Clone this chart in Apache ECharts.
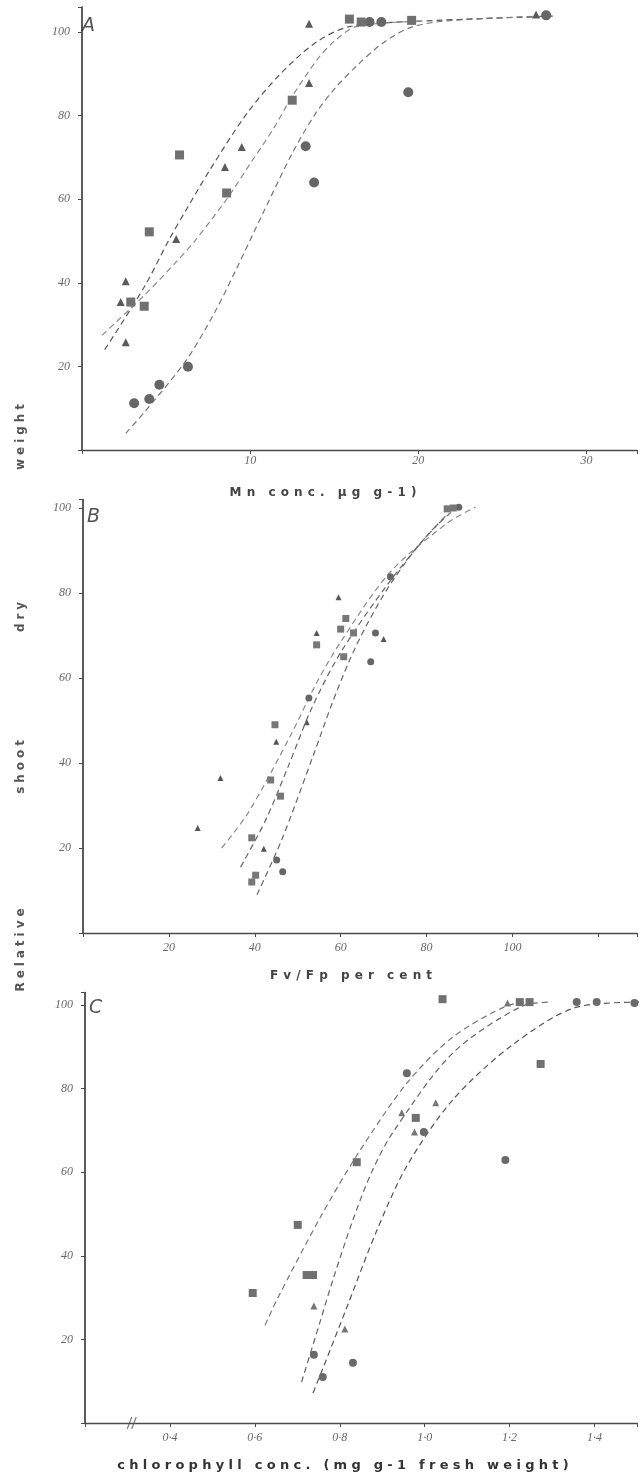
<!DOCTYPE html>
<html>
<head>
<meta charset="utf-8">
<script src="https://cdn.jsdelivr.net/npm/echarts@6/dist/echarts.min.js"></script>
<style>
html,body{margin:0;padding:0;background:#fff;}
#chart{width:640px;height:1480px;}
</style>
</head>
<body>
<div id="chart"></div>
<script>
// ---------- Panel A: Mn concentration ----------
const aCircle = [[3.1,11.2],[4.0,12.2],[4.6,15.6],[6.3,19.9],[13.3,72.7],[13.8,64],[19.4,85.6],[17.1,102.4],[17.8,102.4],[27.6,104]];
const aSquare = [[2.9,35.4],[3.7,34.4],[4.0,52.2],[5.8,70.6],[8.6,61.5],[12.5,83.7],[15.9,103.1],[16.6,102.4],[19.6,102.8]];
const aTriangle = [[2.3,35.4],[2.6,40.4],[2.6,25.8],[5.6,50.5],[8.5,67.7],[9.5,72.5],[13.5,87.8],[13.5,102],[27.0,104.2]];
const aCurve1 = [[1.35,24],[3.7,39],[5.2,50.5],[6.2,57.5],[7.6,67],[9.8,80.5],[11.8,90],[13.9,97.5],[15.9,101.3],[20,102.6],[28,103.8]];
const aCurve2 = [[1.2,27.5],[3.7,37],[5.6,45],[6.7,50],[8.6,60],[10,68.5],[11.4,77],[12.4,84],[14,93.5],[15,97.8],[16.3,101.3],[20,102.6]];
const aCurve3 = [[2.6,4],[3.7,9],[6.2,21.5],[7.9,33],[9.2,43.5],[10.8,57],[12.5,71],[13.9,80.6],[15.1,86.8],[16.3,91.8],[17.9,97.4],[19.6,101.2],[22,102.8],[27.5,103.8]];
const aXTickVals = [10,20,30];
const aXTickLabels = ['10','20','30'];

// ---------- Panel B: Fv/Fp ----------
const bTriangle = [[26.7,24.7],[32,36.5],[42.1,19.8],[45,45],[52.1,49.6],[54.4,70.6],[59.5,79],[70,69.2]];
const bSquare = [[39.3,22.4],[40.2,13.6],[39.3,12],[43.7,36],[44.7,49],[46,32.2],[54.4,67.8],[61.2,74],[60,71.5],[63,70.6],[60.7,65],[84.8,99.8],[86.2,100]];
const bCircle = [[45.1,17.2],[46.5,14.4],[52.6,55.3],[68.1,70.6],[67,63.8],[71.6,83.8],[87.5,100.2]];
const bCurve1 = [[32.3,20],[38.6,28.5],[48.6,47],[54.2,58.5],[60,68.5],[71.6,85],[84.9,96.5],[91.4,100.2]];
const bCurve2 = [[36.7,15.5],[42.5,26.5],[47.9,39.5],[53.3,53],[60,66],[70.9,82],[81,94.5],[86.3,99.5]];
const bCurve3 = [[40.5,9],[46.3,22],[53.7,42],[58,54],[62,64],[65.8,72],[71.2,81.5],[78,91],[85.1,98.8]];
const bXTickVals = [20,40,60,80,100];
const bXTickLabels = ['20','40','60','80','100'];

// ---------- Panel C: chlorophyll ----------
const cSquare = [[0.595,31.1],[0.701,47.4],[0.722,35.4],[0.737,35.4],[0.84,62.4],[0.979,73],[1.042,101.4],[1.224,100.7],[1.247,100.7],[1.273,85.9]];
const cTriangle = [[0.739,28],[0.812,22.5],[0.946,74.2],[0.976,69.6],[1.026,76.6],[1.195,100.5]];
const cCircle = [[0.739,16.3],[0.76,11],[0.831,14.4],[0.958,83.7],[0.998,69.6],[1.19,62.9],[1.358,100.7],[1.405,100.7],[1.494,100.5]];
const cCurve1 = [[0.624,23.4],[0.652,29.5],[0.753,49],[0.84,64],[0.958,81.3],[1.066,92.3],[1.193,99.8],[1.25,100.8]];
const cCurve2 = [[0.71,9.8],[0.753,24],[0.784,34.3],[0.83,48.3],[0.875,60],[0.925,69.5],[1.066,88.5],[1.231,99.8],[1.3,100.7]];
const cCurve3 = [[0.737,7.2],[0.76,13],[0.816,27.5],[0.887,46],[0.958,61.5],[1.066,77.3],[1.207,90.5],[1.358,99.5],[1.506,100.7]];
const cBreak = [[0.31,0]];
const cXTickVals = [0.4,0.6,0.8,1.0,1.2,1.4];
const cXTickLabels = ['0·4','0·6','0·8','1·0','1·2','1·4'];

// ---------- shared ----------
const yTickVals = [20,40,60,80,100];
const yTickLabels = ['20','40','60','80','100'];
const panelLetters = ['A','B','C'];
const xTitles = ['Mn conc. µg g-1)','Fv/Fp per cent','chlorophyll conc. (mg g-1 fresh weight)'];
const yTitleWords = ['Relative','shoot','dry','weight'];

function lookup(vals, labels){
  return function(v){
    for (let i=0;i<vals.length;i++){ if (Math.abs(v-vals[i])<1e-6) return labels[i]; }
    return '';
  };
}
function spaced(s, ls, ws){ return s.split(' ').map(w => w.split('').join(ls)).join(ws); }

const axisColor = '#4a4a4a';
const tickLabelStyle = {color:'#666', fontFamily:'Liberation Serif', fontStyle:'italic', fontSize:12};

function xAxis(idx, min, max, interval, vals, labels, margin){
  return {gridIndex:idx, type:'value', min:min, max:max, interval:interval,
    axisLine:{show:true, onZero:false, lineStyle:{color:axisColor, width:1.3}},
    axisTick:{show:true, length:4, lineStyle:{color:axisColor}},
    axisLabel:Object.assign({margin:margin, formatter:lookup(vals,labels)}, tickLabelStyle),
    splitLine:{show:false}};
}
function yAxis(idx, max){
  return {gridIndex:idx, type:'value', min:0, max:max, interval:20,
    axisLine:{show:true, onZero:false, lineStyle:{color:'#333', width:1.6}},
    axisTick:{show:true, length:4, lineStyle:{color:axisColor}},
    axisLabel:Object.assign({margin:12, formatter:lookup(yTickVals,yTickLabels)}, tickLabelStyle),
    splitLine:{show:false}};
}
function pts(idx, data, symbol, size, color){
  return {type:'scatter', xAxisIndex:idx, yAxisIndex:idx, data:data, symbol:symbol, symbolSize:size,
    itemStyle:{color:color, opacity:1}, z:5, silent:true};
}
function curve(idx, data, color){
  return {type:'line', xAxisIndex:idx, yAxisIndex:idx, data:data, smooth:0.3,
    showSymbol:false, symbol:'none',
    lineStyle:{color:color, width:1.2, type:[6,4]}, z:3, silent:true};
}

const breakSymbol = 'path://M2,14 L6,0 M6,14 L10,0';
const LS = '\u2004\u200A', WS = '\u2003\u200A';

const option = {
  animation:false,
  backgroundColor:'#ffffff',
  grid:[
    {left:82, top:7, width:558, height:443},
    {left:83, top:499.5, width:557, height:433.5},
    {left:85, top:992.5, width:552.5, height:430.5}
  ],
  xAxis:[
    xAxis(0, 0, 33, 10, aXTickVals, aXTickLabels, 5),
    xAxis(1, 0, 129, 20, bXTickVals, bXTickLabels, 9),
    xAxis(2, 0.2, 1.5, 0.2, cXTickVals, cXTickLabels, 9)
  ],
  yAxis:[yAxis(0,106), yAxis(1,102), yAxis(2,103)],
  series:[
    curve(0, aCurve1, '#555'), curve(0, aCurve2, '#8a8a8a'), curve(0, aCurve3, '#777'),
    pts(0, aCircle, 'circle', 10, '#666'),
    pts(0, aSquare, 'rect', 9, '#707070'),
    pts(0, aTriangle, 'triangle', 8, '#5a5a5a'),

    curve(1, bCurve1, '#8a8a8a'), curve(1, bCurve2, '#666'), curve(1, bCurve3, '#666'),
    pts(1, bCircle, 'circle', 7, '#666'),
    pts(1, bSquare, 'rect', 7, '#777'),
    pts(1, bTriangle, 'triangle', 6, '#555'),

    curve(2, cCurve1, '#777'), curve(2, cCurve2, '#666'), curve(2, cCurve3, '#555'),
    pts(2, cCircle, 'circle', 8, '#6a6a6a'),
    pts(2, cSquare, 'rect', 8, '#707070'),
    pts(2, cTriangle, 'triangle', 7, '#777'),
    {type:'scatter', xAxisIndex:2, yAxisIndex:2, data:cBreak, symbol:breakSymbol, symbolSize:[9,12],
      itemStyle:{color:'none', borderColor:'#555', borderWidth:1.4}, z:6, silent:true}
  ],
  graphic:[
    {type:'text', x:82, y:17, style:{text:panelLetters[0], font:'italic lighter 19px "DejaVu Sans"', fill:'#555'}},
    {type:'text', x:87, y:508, style:{text:panelLetters[1], font:'italic lighter 19px "DejaVu Sans"', fill:'#555'}},
    {type:'text', x:89, y:999, style:{text:panelLetters[2], font:'italic lighter 19px "DejaVu Sans"', fill:'#555'}},

    {type:'text', x:323, y:493, style:{text:spaced(xTitles[0], LS, WS), font:'bold 12px "DejaVu Sans"', fill:'#444', align:'center', verticalAlign:'middle'}},
    {type:'text', x:351, y:976, style:{text:spaced(xTitles[1], LS, WS), font:'bold 12px "DejaVu Sans"', fill:'#444', align:'center', verticalAlign:'middle'}},
    {type:'text', x:343, y:1466, style:{text:spaced(xTitles[2], '\u2004', '\u2003'), font:'bold 13px "DejaVu Sans"', fill:'#333', align:'center', verticalAlign:'middle'}},

    {type:'text', x:21, y:950, rotation:Math.PI/2, style:{text:spaced(yTitleWords[0], '\u2004', ' '), font:'bold 12px "DejaVu Sans"', fill:'#555', align:'center', verticalAlign:'middle'}},
    {type:'text', x:21, y:767, rotation:Math.PI/2, style:{text:spaced(yTitleWords[1], '\u2004', ' '), font:'bold 12px "DejaVu Sans"', fill:'#555', align:'center', verticalAlign:'middle'}},
    {type:'text', x:21, y:617, rotation:Math.PI/2, style:{text:spaced(yTitleWords[2], '\u2004', ' '), font:'bold 12px "DejaVu Sans"', fill:'#555', align:'center', verticalAlign:'middle'}},
    {type:'text', x:21, y:437, rotation:Math.PI/2, style:{text:spaced(yTitleWords[3], '\u2004', ' '), font:'bold 12px "DejaVu Sans"', fill:'#555', align:'center', verticalAlign:'middle'}}
  ]
};

const chart = echarts.init(document.getElementById('chart'), null, {renderer:'canvas', width:640, height:1480});
chart.setOption(option);
</script>
</body>
</html>
